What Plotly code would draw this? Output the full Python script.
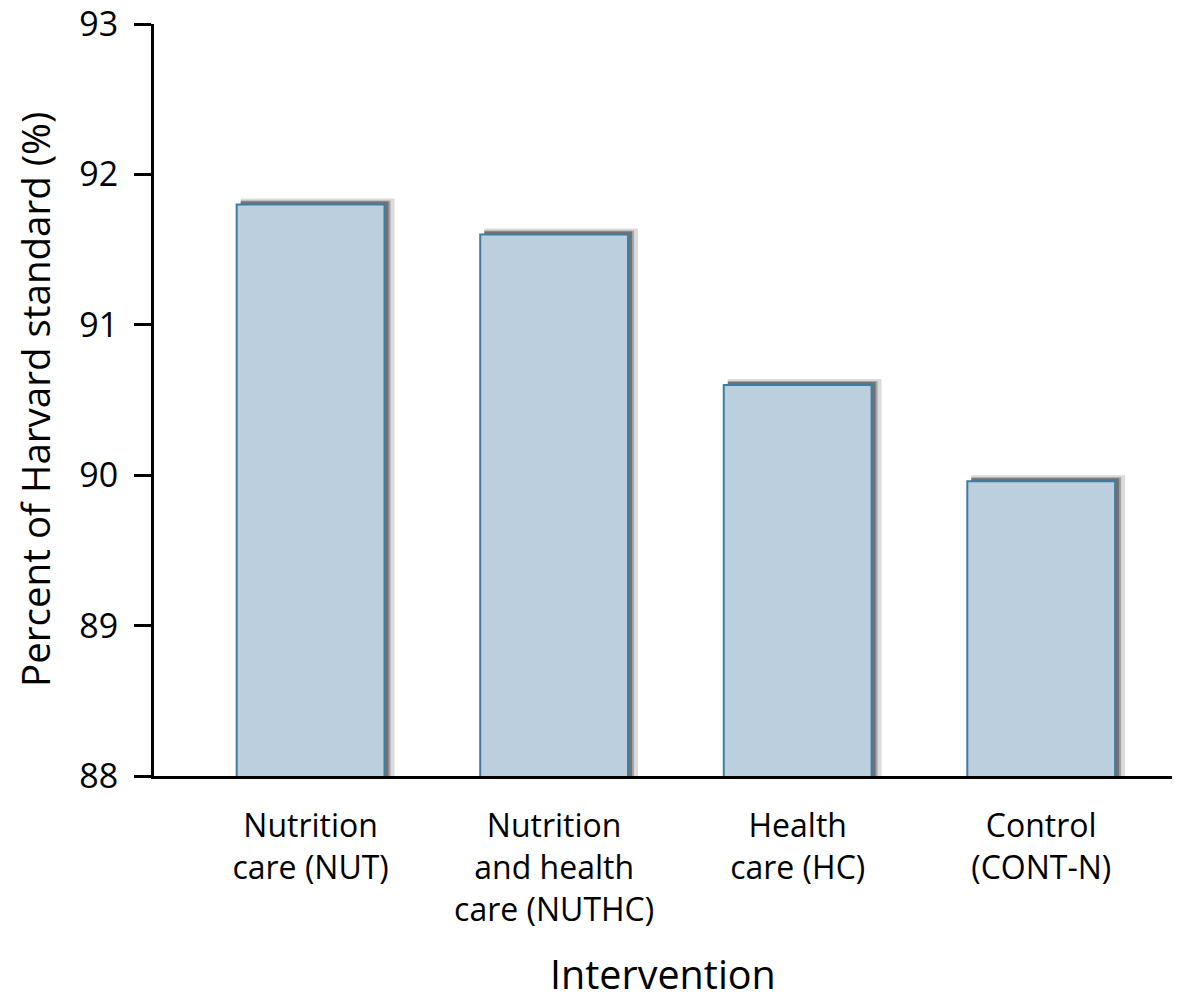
import plotly.graph_objects as go

categories = ["NUT", "NUTHC", "HC", "CONT-N"]
tick_labels = ["Nutrition<br>care (NUT)", "Nutrition<br>and health<br>care (NUTHC)",
               "Health<br>care (HC)", "Control<br>(CONT-N)"]
values = [91.8, 91.6, 90.6, 89.96]
y_ticks = [88, 89, 90, 91, 92, 93]
x_title = "Intervention"
y_title = "Percent of Harvard standard (%)"

FONT = "Open Sans"
W, H = 1179, 1001
ml, mr, mt, mb = 154, 7, 24, 225
pw = W - ml - mr
ph = H - mt - mb
xr = [-0.643, 3.537]
yr = [88, 93]
xpp = (xr[1] - xr[0]) / pw
ypp = (yr[1] - yr[0]) / ph
bw = 0.607
xs = list(range(len(categories)))

fig = go.Figure()

# soft drop-shadow layers: same data drawn on slightly shifted hidden axes
shadow_layers = [
    ("x", "y", 7, 6, "rgba(0,0,0,0.14)", bw + 6 * xpp),
    ("x2", "y2", 5, 4, "rgba(0,0,0,0.25)", bw + 2 * xpp),
    ("x3", "y3", 4, 3, "rgba(0,0,0,0.30)", bw),
]
for xa, ya, dx, dy, col, w in shadow_layers:
    fig.add_trace(go.Bar(x=xs, y=values, xaxis=xa, yaxis=ya, width=w,
                         marker=dict(color=col, line=dict(width=0)),
                         hoverinfo="skip", showlegend=False))

fig.add_trace(go.Bar(x=xs, y=values, xaxis="x4", yaxis="y4", width=bw,
                     marker=dict(color="#bccfdf", line=dict(color="#3f7c9f", width=2)),
                     showlegend=False))

def hidden_x(dx, overlay=None):
    d = dict(range=[xr[0] - dx * xpp, xr[1] - dx * xpp], visible=False,
             automargin=False, fixedrange=True)
    if overlay:
        d["overlaying"] = overlay
    return d

def hidden_y(dy, anchor, overlay=None):
    d = dict(range=[yr[0] - dy * ypp, yr[1] - dy * ypp], visible=False,
             automargin=False, anchor=anchor)
    if overlay:
        d["overlaying"] = overlay
    return d

layout = dict(
    width=W, height=H,
    margin=dict(l=ml, r=mr, t=mt, b=mb),
    paper_bgcolor="white", plot_bgcolor="white",
    font=dict(family=FONT, color="black"),
    barmode="overlay",
    xaxis=hidden_x(shadow_layers[0][2]),
    yaxis=hidden_y(shadow_layers[0][3], "x"),
    xaxis2=hidden_x(shadow_layers[1][2], "x"),
    yaxis2=hidden_y(shadow_layers[1][3], "x2", "y"),
    xaxis3=hidden_x(shadow_layers[2][2], "x"),
    yaxis3=hidden_y(shadow_layers[2][3], "x3", "y"),
    xaxis4=dict(range=xr, overlaying="x", anchor="y4", showline=True, linecolor="black",
                linewidth=3, ticks="", tickmode="array", automargin=False,
                tickvals=xs, ticktext=tick_labels, ticklabelstandoff=20,
                ticklabeloverflow="allow",
                tickfont=dict(size=32, family=FONT, color="black"), showgrid=False,
                zeroline=False),
    yaxis4=dict(range=yr, overlaying="y", anchor="x4", showline=True, linecolor="black",
                linewidth=3, ticks="outside", ticklen=17, tickwidth=3, tickcolor="black",
                tickvals=y_ticks, tickfont=dict(size=34, family=FONT, color="black"),
                ticklabelstandoff=9, ticklabeloverflow="allow",
                showgrid=False, zeroline=False, automargin=False),
    annotations=[
        dict(text=x_title, xref="paper", yref="paper", x=0.5, y=0,
             xanchor="center", yanchor="middle", yshift=-198, showarrow=False,
             font=dict(size=39.5, family=FONT, color="black")),
        dict(text=y_title, xref="paper", yref="paper", x=0, y=0.5,
             xanchor="center", yanchor="middle", xshift=-119, textangle=-90,
             showarrow=False, font=dict(size=38.5, family=FONT, color="black")),
    ],
)
fig.update_layout(**layout)
fig.write_html("out.html", config={"displayModeBar": False},
               post_script="document.body.style.margin='0';document.body.style.overflow='hidden';")
